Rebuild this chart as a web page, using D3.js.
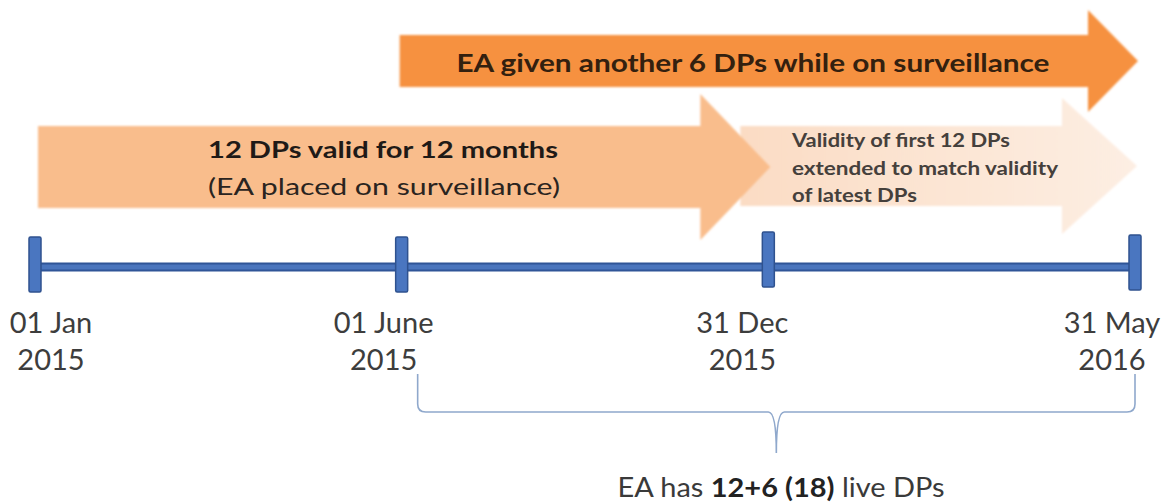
<!DOCTYPE html>
<html>
<head>
<meta charset="utf-8">
<script src="https://cdn.jsdelivr.net/npm/d3@7"></script>
<style>
  html, body { margin: 0; padding: 0; background: #ffffff; }
  svg { display: block; font-family: Lato, "Open Sans", "DejaVu Sans", sans-serif; }
</style>
</head>
<body>
<svg id="chart" width="1169" height="504"></svg>
<script>
// ---------- data ----------
const milestones = ["2015-01-01", "2015-06-01", "2015-12-31", "2016-05-31"];
const milestoneDay = ["01 Jan", "01 June", "31 Dec", "31 May"];
const milestoneYear = ["2015", "2015", "2015", "2016"];

// periods (arrows): start milestone, end milestone
const periodNames = ["extension", "first", "additional"];
const periodStart = ["2015-12-31", "2015-01-01", "2015-06-01"];
const periodEnd = ["2016-05-31", "2015-12-31", "2016-05-31"];
const periodText = [
  ["Validity of first 12 DPs", "extended to match validity", "of latest DPs"],
  ["12 DPs valid for 12 months", "(EA placed on surveillance)"],
  ["EA given another 6 DPs while on surveillance"]
];

const braceStart = "2015-06-01";
const braceEnd = "2016-05-31";
const summaryParts = [["EA has ", false], ["12+6 (18)", true], [" live DPs", false]];

// ---------- layout ----------
const svg = d3.select("#chart");
const x = d3.scalePoint().domain(milestones).range([35, 1135]).padding(0);
const lineY = 267;
const labelDx = [16, -18, -26, -23];

// arrow styles per period
const arrowStyle = {
  extension:  { dx0: -28, dx1: 2,  yc: 166, bh: 40, hh: 68, hl: 75, fill: "url(#extGrad)" },
  first:      { dx0: 3,   dx1: 2,  yc: 167, bh: 41, hh: 73, hl: 70, fill: "#f9bd8c" },
  additional: { dx0: -2,  dx1: 3,  yc: 61,  bh: 26, hh: 51, hl: 50, fill: "#f6913f" }
};

const defs = svg.append("defs");
const grad = defs.append("linearGradient").attr("id", "extGrad")
  .attr("x1", "0").attr("x2", "1").attr("y1", "0").attr("y2", "0");
grad.append("stop").attr("offset", "0").attr("stop-color", "#fbdcc4");
grad.append("stop").attr("offset", "1").attr("stop-color", "#fdeee3");
defs.append("filter").attr("id", "soft")
  .append("feGaussianBlur").attr("stdDeviation", 0.9);

function arrowPath(x0, x1, yc, bh, hh, hl) {
  const p = d3.path();
  p.moveTo(x0, yc - bh);
  p.lineTo(x1 - hl, yc - bh);
  p.lineTo(x1 - hl, yc - hh);
  p.lineTo(x1, yc);
  p.lineTo(x1 - hl, yc + hh);
  p.lineTo(x1 - hl, yc + bh);
  p.lineTo(x0, yc + bh);
  p.closePath();
  return p.toString();
}

const arrows = periodNames.map((n, i) => ({ name: n, s: periodStart[i], e: periodEnd[i], text: periodText[i] }));

svg.append("g").selectAll("path").data(arrows).join("path")
  .attr("d", d => {
    const st = arrowStyle[d.name];
    return arrowPath(x(d.s) + st.dx0, x(d.e) + st.dx1, st.yc, st.bh, st.hh, st.hl);
  })
  .attr("fill", d => arrowStyle[d.name].fill)
  .attr("filter", "url(#soft)");

// arrow texts
const tg = svg.append("g");
// additional (top)
tg.append("text")
  .attr("x", 753).attr("y", 72)
  .attr("text-anchor", "middle")
  .attr("font-size", 25).attr("font-weight", 700)
  .attr("fill", "#33200f")
  .attr("textLength", 593).attr("lengthAdjust", "spacingAndGlyphs")
  .text(periodText[2][0]);
// first
tg.append("text")
  .attr("x", 383).attr("y", 158)
  .attr("text-anchor", "middle")
  .attr("font-size", 23).attr("font-weight", 700)
  .attr("fill", "#1f1a17")
  .attr("textLength", 350).attr("lengthAdjust", "spacingAndGlyphs")
  .text(periodText[1][0]);
tg.append("text")
  .attr("x", 384).attr("y", 195)
  .attr("text-anchor", "middle")
  .attr("font-size", 24).attr("font-weight", 400)
  .attr("fill", "#2a2420")
  .attr("textLength", 352).attr("lengthAdjust", "spacingAndGlyphs")
  .text(periodText[1][1]);
// extension
const extLens = [218, 266, 125];
const extY = [147, 175, 202];
periodText[0].forEach((t, i) => {
  tg.append("text")
    .attr("x", 792).attr("y", extY[i])
    .attr("font-size", 19).attr("font-weight", 700)
    .attr("fill", "#45403c")
    .attr("textLength", extLens[i]).attr("lengthAdjust", "spacingAndGlyphs")
    .text(t);
});

// ---------- timeline ----------
const tl = svg.append("g");
tl.append("line")
  .attr("x1", x(milestones[0])).attr("x2", x(milestones[milestones.length - 1]))
  .attr("y1", lineY).attr("y2", lineY)
  .attr("stroke", "#2f5597").attr("stroke-width", 9);
tl.append("line")
  .attr("x1", x(milestones[0])).attr("x2", x(milestones[milestones.length - 1]))
  .attr("y1", lineY).attr("y2", lineY)
  .attr("stroke", "#4a75bd").attr("stroke-width", 5);

const tickTop = [237, 237, 232, 235];
tl.selectAll("rect.tick").data(milestones).join("rect")
  .attr("class", "tick")
  .attr("x", d => x(d) - 6)
  .attr("y", (d, i) => tickTop[i])
  .attr("width", 12).attr("height", 55)
  .attr("rx", 1.5)
  .attr("fill", "#4a76c0")
  .attr("stroke", "#2f528f").attr("stroke-width", 1.5);

const labels = svg.append("g")
  .attr("font-size", 29).attr("fill", "#3d3d3d").attr("text-anchor", "middle");
labels.selectAll("text.day").data(milestones).join("text")
  .attr("class", "day")
  .attr("x", (d, i) => x(d) + labelDx[i]).attr("y", 333)
  .text((d, i) => milestoneDay[i]);
labels.selectAll("text.year").data(milestones).join("text")
  .attr("class", "year")
  .attr("x", (d, i) => x(d) + labelDx[i]).attr("y", 370)
  .text((d, i) => milestoneYear[i]);

// ---------- brace ----------
const bx0 = x(braceStart) + 16, bx1 = x(braceEnd);
const bxm = (bx0 + bx1) / 2;
const by0 = 374, byh = 412, byt = 453, r = 8;
const bp = d3.path();
bp.moveTo(bx0, by0);
bp.lineTo(bx0, byh - r);
bp.quadraticCurveTo(bx0, byh, bx0 + r, byh);
bp.lineTo(bxm - 8, byh);
bp.quadraticCurveTo(bxm, byh, bxm, byt);
bp.quadraticCurveTo(bxm, byh, bxm + 8, byh);
bp.lineTo(bx1 - r, byh);
bp.quadraticCurveTo(bx1, byh, bx1, byh - r);
bp.lineTo(bx1, by0);
svg.append("path").attr("d", bp.toString())
  .attr("fill", "none").attr("stroke", "#8fa8cc").attr("stroke-width", 1.6);

// ---------- summary ----------
const sum = svg.append("text")
  .attr("x", 781).attr("y", 497)
  .attr("text-anchor", "middle")
  .attr("font-size", 27).attr("fill", "#3a3a3a")
  .attr("textLength", 327).attr("lengthAdjust", "spacingAndGlyphs");
sum.selectAll("tspan").data(summaryParts).join("tspan")
  .attr("font-weight", d => d[1] ? 700 : 400)
  .attr("fill", d => d[1] ? "#222" : "#3a3a3a")
  .text(d => d[0]);
</script>
</body>
</html>
